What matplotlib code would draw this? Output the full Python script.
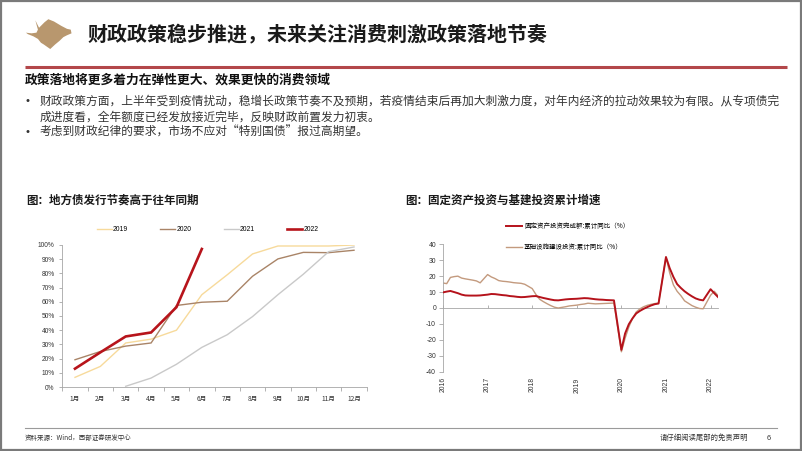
import matplotlib
matplotlib.use('Agg')
import matplotlib.pyplot as plt
from matplotlib.patches import Polygon, Rectangle
import numpy as np

CJK = 'Noto Sans CJK SC'
LAT = 'Liberation Sans'
plt.rcParams['font.family'] = [LAT, CJK]

# ---------------- data ----------------
month_labels = ['1月', '2月', '3月', '4月', '5月', '6月', '7月', '8月', '9月', '10月', '11月', '12月']
series_names = ['2019', '2020', '2021', '2022']
issue_2019 = [6.8, 14.5, 31.0, 33.7, 40.0, 65.0, 79.0, 93.7, 99.3, 99.3, 99.3, 100.0]
issue_2020 = [19.2, 25.0, 28.8, 31.0, 57.4, 59.7, 60.4, 78.0, 90.2, 94.8, 94.6, 96.3]
issue_2021 = [np.nan, np.nan, 0.5, 6.3, 16.0, 27.9, 36.8, 49.6, 65.0, 79.4, 95.3, 98.6]
issue_2022 = [12.9, 24.4, 35.6, 38.4, 56.2, 97.2]
issue_colors = ['#F7DA9B', '#A98467', '#C9C9C9', '#B7141B']

# monthly observations (Feb-Dec each year, Jan not published), 2016-02 .. 2022-04
obs_years = [y for y in range(2016, 2022) for _ in range(11)] + [2022, 2022, 2022]
obs_months = [m for _ in range(2016, 2022) for m in range(2, 13)] + [2, 3, 4]
fai_yoy = [
    9.8, 10.3, 10.7, 10.0, 9.3, 8.4, 7.9, 7.8, 7.8, 7.8, 7.9,      # 2016
    8.4, 8.8, 8.7, 8.4, 8.1, 7.9, 7.5, 7.3, 7.0, 6.8, 6.9,         # 2017
    7.4, 7.5, 6.9, 6.3, 5.8, 5.3, 4.9, 4.8, 5.1, 5.4, 5.6,         # 2018
    5.8, 6.0, 6.2, 6.1, 5.8, 5.5, 5.3, 5.2, 5.0, 4.9, 4.8,         # 2019
    -26.3, -16.0, -10.2, -6.5, -3.4, -1.8, -0.5, 0.6, 1.6, 2.4, 2.8,  # 2020
    32.0, 25.0, 19.5, 15.0, 12.6, 10.5, 8.8, 7.3, 6.0, 5.2, 4.8,   # 2021
    11.8, 9.3, 6.9,                                                # 2022
]
infra_yoy = [
    15.7, 15.3, 19.2, 19.7, 20.0, 18.8, 18.3, 17.9, 17.5, 17.0, 15.8,   # 2016
    21.0, 19.5, 18.5, 17.2, 16.8, 16.6, 16.3, 15.9, 15.7, 15.5, 14.9,   # 2017
    12.2, 8.5, 5.5, 4.0, 2.7, 1.5, 0.5, 0.0, 0.4, 0.8, 1.3,             # 2018
    1.8, 2.2, 2.5, 3.0, 2.8, 2.6, 2.7, 2.8, 2.9, 3.0, 3.1,              # 2019
    -27.5, -19.0, -12.0, -6.5, -2.5, -0.5, 0.8, 1.7, 2.3, 2.8, 3.1,     # 2020
    32.0, 22.0, 14.5, 10.5, 7.8, 4.5, 3.0, 1.5, 0.5, -0.3, -0.5,        # 2021
    8.0, 10.5, 7.8,                                                     # 2022
]
year_labels = ['2016', '2017', '2018', '2019', '2020', '2021', '2022']
legend_right = ['固定资产投资完成额:累计同比（%）', '基础设施建设投资:累计同比（%）']
fai_color = '#B5121B'
infra_color = '#C39A7E'

# ---------------- figure ----------------
W, H = 802, 451
fig = plt.figure(figsize=(W / 100, H / 100), dpi=100)
bg = fig.add_axes([0, 0, 1, 1], zorder=-1)
bg.set_xlim(0, W)
bg.set_ylim(H, 0)
bg.axis('off')

# page frame
bg.add_patch(Rectangle((0.8, 0.8), W - 1.6, H - 1.6, fill=False, ec='#7a7a7a', lw=1.6))

# logo
logo = [(36.7, 21.7), (40, 28.3), (45, 23.3), (48.3, 20.7), (53.3, 22.7), (60, 26.7), (65, 29.3),
        (68.3, 30), (69, 33.3), (65, 35), (61.7, 36.7), (58.3, 40), (54.3, 43.3), (50, 47.3),
        (46.7, 45), (44.3, 43.3), (41.7, 41.7), (39, 38.3), (35, 36), (30, 34), (28.3, 32.7),
        (33.3, 33.3), (37.7, 32.7), (39, 30)]
cx, cy = 48, 33
logo = [(cx + (x - cx) * 1.12, cy + (y - cy) * 1.12) for x, y in logo]
bg.add_patch(Polygon(logo, closed=True, fc='#B8976E', ec='none'))

bg.text(88, 34, '财政政策稳步推进，未来关注消费刺激政策落地节奏', family=[CJK], fontsize=14.4,
        fontweight='bold', color='#1a1a1a', va='center', ha='left')
bg.plot([25, 787], [67, 67], color='#B3474A', lw=2.2, solid_capstyle='butt')

bg.text(25, 80, '政策落地将更多着力在弹性更大、效果更快的消费领域', family=[CJK], fontsize=9.2,
        fontweight='bold', color='#111111', va='center', ha='left')
body_lines = [
    (101, True, '财政政策方面，上半年受到疫情扰动，稳增长政策节奏不及预期，若疫情结束后再加大刺激力度，对年内经济的拉动效果较为有限。从专项债完'),
    (117, False, '成进度看，全年额度已经发放接近完毕，反映财政前置发力初衷。'),
    (132, True, '考虑到财政纪律的要求，市场不应对“特别国债”报过高期望。'),
]
for y, bullet, txt in body_lines:
    if bullet:
        bg.text(27, y, '•', family=[LAT], fontsize=8, color='#333333', va='center', ha='center')
    bg.text(40, y, txt, family=[CJK], fontsize=8.45, color='#333333', va='center', ha='left')

bg.text(26, 200, '图：地方债发行节奏高于往年同期', family=[CJK], fontsize=8.3, fontweight='bold',
        color='#1a1a1a', va='center', ha='left')
bg.text(405, 200, '图：固定资产投资与基建投资累计增速', family=[CJK], fontsize=8.3, fontweight='bold',
        color='#1a1a1a', va='center', ha='left')

# footer
bg.plot([25, 777], [428, 428], color='#9a9a9a', lw=0.8)
bg.text(25, 438, '资料来源：Wind，西部证券研发中心', family=[CJK], fontsize=4.7, color='#333333',
        va='center', ha='left')
bg.text(748, 438, '请仔细阅读尾部的免责声明', family=[CJK], fontsize=5.3, color='#333333',
        va='center', ha='right')
bg.text(769, 438, '6', family=[LAT], fontsize=5.3, color='#333333', va='center', ha='center')

axis_gray = '#A6A6A6'
tick_col = '#333333'

# ---------------- left chart ----------------
ax1 = fig.add_axes([62.3 / W, 1 - 387 / H, 304.4 / W, 142 / H])
xpos = np.arange(1, 13)
issue_series = [issue_2019, issue_2020, issue_2021, issue_2022]
handles = []
for name, vals, col in zip(series_names, issue_series, issue_colors):
    lw = 1.9 if name == '2022' else 1.0
    h, = ax1.plot(xpos[:len(vals)], vals, color=col, lw=lw, solid_joinstyle='miter')
    handles.append(h)
ax1.set_xlim(0.5, 12.5)
ax1.set_ylim(0, 100)
ax1.set_yticks(np.arange(0, 101, 10))
ax1.set_yticklabels([f'{v}%' for v in range(0, 101, 10)])
ax1.set_xticks(np.arange(0.5, 12.6, 1))
ax1.set_xticklabels([])
ax1.set_xticks(xpos, minor=True)
ax1.set_xticklabels(month_labels, minor=True, family=[CJK])
ax1.tick_params(axis='x', which='major', direction='out', length=3, color=axis_gray, width=0.6)
ax1.tick_params(axis='x', which='minor', length=0, pad=6, labelsize=4.8, labelcolor=tick_col)
ax1.tick_params(axis='y', direction='out', length=2.5, color=axis_gray, width=0.6,
                labelsize=4.8, labelcolor=tick_col, pad=3)
for s in ['top', 'right']:
    ax1.spines[s].set_visible(False)
for s in ['left', 'bottom']:
    ax1.spines[s].set_color(axis_gray)
    ax1.spines[s].set_linewidth(0.6)
ax1.patch.set_alpha(0)
ax1.legend(handles, series_names, ncol=4, loc='center left',
           bbox_to_anchor=(96.7 / W, 1 - 229.5 / H), bbox_transform=fig.transFigure,
           frameon=False, fontsize=4.9, handlelength=2.2, handletextpad=0.2,
           columnspacing=4.7, borderpad=0, borderaxespad=0)

# ---------------- right chart ----------------
ax2 = fig.add_axes([443 / W, 1 - 371.7 / H, 275 / W, 127.4 / H])
xoff = [(y - 2016) * 12 + (m - 2) for y, m in zip(obs_years, obs_months)]
h1, = ax2.plot(xoff, fai_yoy, color=fai_color, lw=1.4, zorder=3)
h2, = ax2.plot(xoff, infra_yoy, color=infra_color, lw=1.0, zorder=2)
ax2.set_xlim(0, 74)
ax2.set_ylim(-40, 40)
ax2.set_yticks(np.arange(-40, 41, 10))
ax2.set_yticklabels([str(v) for v in range(-40, 41, 10)])
year_pos = [12 * i for i in range(len(year_labels))]
ax2.set_xticks(year_pos)
ax2.set_xticklabels(year_labels, rotation=90, va='top', ha='center')
ax2.tick_params(axis='x', length=0, pad=4, labelsize=4.9, labelcolor=tick_col)
ax2.tick_params(axis='y', direction='out', length=3, color=axis_gray, width=0.6,
                labelsize=4.9, labelcolor=tick_col, pad=2)
for s in ['top', 'right', 'bottom']:
    ax2.spines[s].set_visible(False)
ax2.spines['left'].set_color(axis_gray)
ax2.spines['left'].set_linewidth(0.6)
ax2.patch.set_alpha(0)
sec = ax2.secondary_xaxis(0.5)
sec.set_xticks(year_pos)
sec.tick_params(axis='x', direction='out', length=2, color=axis_gray, width=0.6,
                labeltop=False, labelbottom=False)
for s in sec.spines.values():
    s.set_color(axis_gray)
    s.set_linewidth(0.6)
ax2.legend([h1, h2], legend_right, loc='center left',
           bbox_to_anchor=(506 / W, 1 - 236.7 / H), bbox_transform=fig.transFigure,
           frameon=False, prop={'family': [CJK], 'size': 4.7}, handlelength=2.45,
           handletextpad=0.3, labelspacing=1.9, borderpad=0, borderaxespad=0)

fig.savefig('out.png', dpi=100)
